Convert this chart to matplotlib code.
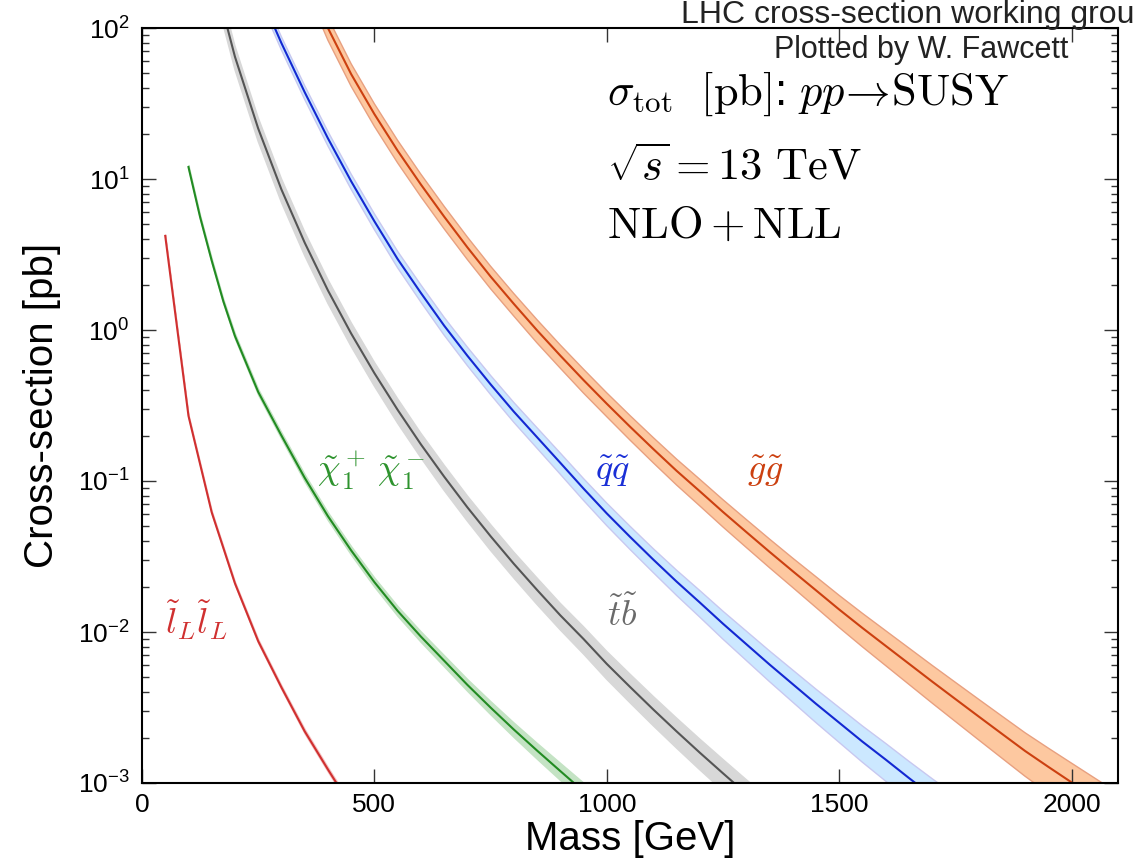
import numpy as np
import matplotlib
matplotlib.use("Agg")
import matplotlib.pyplot as plt
from matplotlib.ticker import LogLocator, FuncFormatter, NullFormatter

plt.rcParams["font.family"] = ["Liberation Sans", "DejaVu Sans"]
plt.rcParams["mathtext.fontset"] = "cm"

# slepton pair (left-handed)
slep_mass = [50, 100, 150, 200, 250, 300, 350, 400, 450]
slep_xsec = [4.2, 0.27, 0.062, 0.021, 0.0087, 0.0043, 0.0022, 0.00123, 0.0007]
slep_unc = [0.02, 0.02, 0.025, 0.025, 0.03, 0.03, 0.035, 0.035, 0.04]

# chargino pair
c1c1_mass = [100, 125, 150, 175, 200, 250, 300, 350, 400, 450, 500, 550, 600,
             650, 700, 750, 800, 850, 900, 950, 1000]
c1c1_xsec = [12.0, 5.6, 2.88, 1.55, 0.912, 0.389, 0.200, 0.105, 0.0585, 0.0347,
             0.0214, 0.0138, 0.00933, 0.00646, 0.00447, 0.00316, 0.00226,
             0.00164, 0.00120, 0.00088, 0.000646]
c1c1_unc = [0.03, 0.03, 0.035, 0.035, 0.04, 0.045, 0.05, 0.055, 0.06, 0.065,
            0.07, 0.075, 0.08, 0.085, 0.09, 0.10, 0.11, 0.12, 0.13, 0.14, 0.15]

# stop / sbottom
stop_mass = [150, 200, 250, 300, 350, 400, 450, 500, 550, 600, 650, 700, 750,
             800, 850, 900, 950, 1000, 1050, 1100, 1150, 1200, 1250, 1300, 1350,
             1400]
stop_xsec = [249, 64.5, 21.6, 8.52, 3.79, 1.83, 0.948, 0.518, 0.296, 0.175,
             0.107, 0.067, 0.0431, 0.0283, 0.0190, 0.0129, 0.00899, 0.00615,
             0.00433, 0.00307, 0.0022, 0.00159, 0.00116, 0.00085, 0.00063,
             0.00046]
stop_unc = [0.18, 0.18, 0.18, 0.18, 0.18, 0.18, 0.18, 0.18, 0.185, 0.185, 0.19,
            0.19, 0.195, 0.195, 0.20, 0.20, 0.205, 0.21, 0.215, 0.22, 0.225,
            0.23, 0.235, 0.24, 0.245, 0.25]

# squark pair
sq_mass = [200, 250, 300, 350, 400, 450, 500, 550, 600, 650, 700, 750, 800,
           850, 900, 950, 1000, 1050, 1100, 1150, 1200, 1250, 1300, 1350, 1400,
           1450, 1500, 1550, 1600, 1650, 1700, 1750, 1800]
sq_xsec = [427, 178, 79.4, 37.6, 18.6, 9.66, 5.25, 2.95, 1.76, 1.07, 0.676,
           0.437, 0.288, 0.195, 0.132, 0.0891, 0.0610, 0.0427, 0.0302, 0.0216,
           0.0157, 0.01135, 0.00832, 0.00610, 0.00452, 0.00335, 0.00251,
           0.00188, 0.00143, 0.00108, 0.000822, 0.000631, 0.000479]
sq_unc = [0.10, 0.10, 0.10, 0.105, 0.11, 0.115, 0.12, 0.125, 0.13, 0.135, 0.14,
          0.145, 0.15, 0.155, 0.16, 0.165, 0.17, 0.175, 0.18, 0.19, 0.20, 0.21,
          0.22, 0.23, 0.24, 0.25, 0.26, 0.27, 0.28, 0.29, 0.30, 0.31, 0.32]

# gluino pair
gl_mass = [350, 400, 450, 500, 550, 600, 650, 700, 750, 800, 850, 900, 950,
           1000, 1050, 1100, 1150, 1200, 1250, 1300, 1350, 1400, 1450, 1500,
           1550, 1600, 1650, 1700, 1750, 1800, 1850, 1900, 1950, 2000, 2050,
           2100]
gl_xsec = [229, 100, 49.5, 26.9, 15.4, 9.2, 5.64, 3.53, 2.26, 1.49, 0.995,
           0.677, 0.466, 0.325, 0.229, 0.163, 0.117, 0.0856, 0.0624, 0.046,
           0.034, 0.0253, 0.0189, 0.0141, 0.01064, 0.0081, 0.00617, 0.0047,
           0.0036, 0.00276, 0.00212, 0.00163, 0.00128, 0.00101, 0.000798,
           0.00063]
gl_unc = [0.17, 0.17, 0.17, 0.17, 0.17, 0.17, 0.17, 0.17, 0.17, 0.17, 0.175,
          0.175, 0.18, 0.18, 0.185, 0.19, 0.195, 0.20, 0.205, 0.21, 0.215, 0.22,
          0.23, 0.24, 0.25, 0.26, 0.27, 0.28, 0.29, 0.30, 0.31, 0.32, 0.33,
          0.34, 0.35, 0.36]

curves = [
    # mass, xsec, unc, line colour, band fill, band edge, label colour, label, label pos
    (gl_mass, gl_xsec, gl_unc, "#cc4010", "#fdc8a0", "#e8a080", "#cc4010",
     r"$\tilde{g}\tilde{g}$", (1302, 0.116)),
    (sq_mass, sq_xsec, sq_unc, "#1428d2", "#cce8ff", "#c8c8f0", "#1a2fd6",
     r"$\tilde{q}\tilde{q}$", (975, 0.116)),
    (stop_mass, stop_xsec, stop_unc, "#555555", "#d8d8d8", "#d8d8d8", "#6a6a6a",
     r"$\tilde{t}\tilde{b}$", (1001, 0.0128)),
    (c1c1_mass, c1c1_xsec, c1c1_unc, "#228b22", "#c4e3c4", "#c4e3c4", "#2e932e",
     r"$\tilde{\chi}_1^+\,\tilde{\chi}_1^-$", (377, 0.116)),
    (slep_mass, slep_xsec, slep_unc, "#d03030", "#f4c4c4", "#f4c4c4", "#d03030",
     r"$\tilde{l}_L\tilde{l}_L$", (50, 0.012)),
]

fig = plt.figure(figsize=(11.35, 8.6), dpi=100)
ax = fig.add_axes([142 / 1135, 1 - 783 / 860, 976 / 1135, 755 / 860])

for mass, xsec, unc, lc, fill, edge, tc, label, pos in curves:
    m = np.array(mass, dtype=float)
    s = np.array(xsec)
    u = np.array(unc)
    ax.fill_between(m, s * (1 - u), s * (1 + u), facecolor=fill,
                    edgecolor=edge, linewidth=1.0)
    ax.plot(m, s, color=lc, lw=1.5)
    ax.text(pos[0], pos[1], label, color=tc, fontsize=26,
            ha="left", va="center")

ax.set_yscale("log")
ax.set_xlim(0, 2100)
ax.set_ylim(1e-3, 1e2)
ax.set_xticks([0, 500, 1000, 1500, 2000])
ax.yaxis.set_major_locator(LogLocator(base=10, numticks=10))
ax.yaxis.set_minor_locator(LogLocator(base=10, subs=np.arange(2, 10), numticks=20))
ax.yaxis.set_major_formatter(FuncFormatter(
    lambda v, p: r"$\mathregular{10^{%d}}$" % round(np.log10(v))))
ax.yaxis.set_minor_formatter(NullFormatter())

ax.tick_params(which="both", direction="in", top=True, right=True,
               color="#333333", width=1)
ax.tick_params(which="major", length=10, labelsize=19)
ax.tick_params(which="minor", length=5)
ax.tick_params(axis="y", pad=9)
ax.tick_params(axis="x", pad=7)
for sp in ax.spines.values():
    sp.set_linewidth(1.5)

ax.set_xlabel("Mass [GeV]", fontsize=29, labelpad=2)
ax.set_ylabel("Cross-section [pb]", fontsize=29, labelpad=12)

ax.text(0.476, 0.898, r"$\sigma_{\rm tot}\ \ [{\rm pb}]$: $pp\!\rightarrow\!{\rm SUSY}$",
        transform=ax.transAxes, fontsize=32, ha="left", va="baseline")
ax.text(0.476, 0.799, r"$\sqrt{s}={\rm 13\ TeV}$",
        transform=ax.transAxes, fontsize=32, ha="left", va="baseline")
ax.text(0.476, 0.722, r"${\rm NLO+NLL}$",
        transform=ax.transAxes, fontsize=32, ha="left", va="baseline")

fig.text(681 / 1135, 0.973, "LHC cross-section working group", fontsize=23,
         ha="left", va="baseline", color="#222222")
fig.text(1068 / 1135, 0.9326, "Plotted by W. Fawcett", fontsize=22,
         ha="right", va="baseline", color="#222222")

fig.savefig("out.png", dpi=100)
